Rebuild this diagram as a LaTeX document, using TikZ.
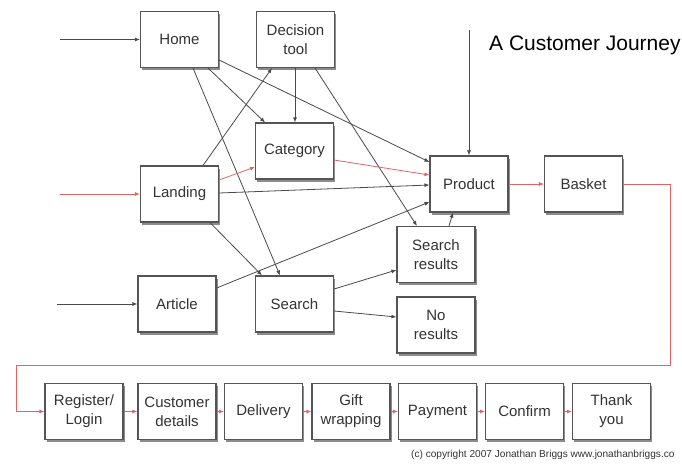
\documentclass[tikz,border=0pt]{standalone}
\usepackage{fontspec}
\setmainfont{Liberation Sans}
\usetikzlibrary{arrows.meta,shadows}

\definecolor{edge}{HTML}{4A4A4A}
\definecolor{boxline}{HTML}{555555}
\definecolor{flow}{HTML}{E06464}
\definecolor{ink}{HTML}{333333}

\tikzset{
  page/.style={
    draw=boxline, line width=1.1pt, fill=white, text=ink,
    minimum width=78pt, minimum height=56pt, inner sep=2pt,
    align=center, font=\fontsize{15}{19}\selectfont,
    drop shadow={shadow xshift=1.5pt, shadow yshift=-2.5pt, opacity=0.45, fill=black}
  },
  link/.style={draw=edge, line width=0.8pt, -{Latex[length=5pt,width=4pt]}},
  redlink/.style={draw=flow, line width=0.8pt, -{Latex[length=5pt,width=4pt]}}
}

\begin{document}
\begin{tikzpicture}[x=1pt,y=-1pt]
  \clip (0,0) rectangle (682,464);
  \fill[white] (0,0) rectangle (682,464);

  % site pages
  \node[page] (home) at (179.5,39.5) {Home};
  \node[page] (dec)  at (295.5,39.5) {Decision\\tool};
  \node[page] (cat)  at (294.5,151)  {Category};
  \node[page] (land) at (179.5,194)  {Landing};
  \node[page] (prod) at (469,184)    {Product};
  \node[page] (bask) at (583.5,184)  {Basket};
  \node[page] (art)  at (177,304)    {Article};
  \node[page] (srch) at (294.5,304)  {Search};
  \node[page] (sres) at (436,254.5)  {Search\\results};
  \node[page] (nores) at (436,325)   {No\\results};

  % checkout steps
  \node[page] (reg)  at (84,411.5)    {Register/\\Login};
  \node[page] (cust) at (177,411.5)   {Customer\\details};
  \node[page] (deliv) at (263.5,411.5) {Delivery};
  \node[page] (gift) at (351,411.5)   {Gift\\wrapping};
  \node[page] (pay)  at (437.5,411.5) {Payment};
  \node[page] (conf) at (524.5,411.5) {Confirm};
  \node[page] (thx)  at (611.5,411.5) {Thank\\you};

  % title and credit
  \node[anchor=west, text=black, font=\fontsize{21}{25}\selectfont, inner sep=0pt]
    (title) at (489,45) {A Customer Journey};
  \node[anchor=west, text=ink, font=\fontsize{10.1}{12}\selectfont, inner sep=0pt]
    (credit) at (411,455) {(c) copyright 2007 Jonathan Briggs www.jonathanbriggs.co};

  % entry points
  \coordinate (inHome) at (60,39.5);
  \coordinate (inLand) at (60,194);
  \coordinate (inArt)  at (57,304);
  \coordinate (inProd) at (469,30);
  \draw[link] (inHome) -- (home.west);
  \draw[redlink] (inLand) -- (land.west);
  \draw[link] (inArt) -- (art.west);
  \draw[link] (inProd) -- (prod.north);

  % navigation between pages
  \draw[link] ([xshift=28.5pt]home.south) -- ([xshift=-29.5pt]cat.north);
  \draw[link] ([yshift=-20.5pt]home.east) -- ([yshift=22pt]prod.west);
  \draw[link] ([xshift=13.5pt]home.south) -- ([xshift=-14.5pt]srch.north);
  \draw[link] ([xshift=23.5pt]land.north) -- ([xshift=-23.5pt]dec.south);
  \draw[redlink] ([yshift=14pt]land.east) -- ([yshift=-16pt]cat.west);
  \draw[link] ([yshift=1pt]land.east) -- ([yshift=-1pt]prod.west);
  \draw[link] ([xshift=30.5pt]land.south) -- ([xshift=-32.5pt]srch.north);
  \draw[link] ([xshift=-0.5pt]dec.south) -- ([xshift=0.5pt]cat.north);
  \draw[link] ([xshift=19.5pt]dec.south) -- ([xshift=-19pt]sres.north);
  \draw[redlink] ([yshift=-9pt]cat.east) -- ([yshift=9pt]prod.west);
  \draw[link] ([yshift=16pt]art.east) -- ([yshift=-18pt]prod.west);
  \draw[link] ([yshift=15pt]srch.east) -- ([yshift=-15.5pt]sres.west);
  \draw[link] ([yshift=-7pt]srch.east) -- ([yshift=8pt]nores.west);
  \draw[link] ([xshift=13pt]sres.north) -- ([xshift=-16pt]prod.south);
  \draw[redlink] (prod.east) -- (bask.west);

  % basket to checkout loop
  \coordinate (loopA) at (670,184);
  \coordinate (loopB) at (670,365);
  \coordinate (loopC) at (16,365);
  \coordinate (loopD) at (16,411.5);
  \draw[redlink] (bask.east) -- (loopA) -- (loopB) -- (loopC) -- (loopD) -- (reg.west);

  % checkout sequence
  \draw[redlink] (reg.east) -- (cust.west);
  \draw[redlink] (cust.east) -- (deliv.west);
  \draw[redlink] (deliv.east) -- (gift.west);
  \draw[redlink] (gift.east) -- (pay.west);
  \draw[redlink] (pay.east) -- (conf.west);
  \draw[redlink] (conf.east) -- (thx.west);
\end{tikzpicture}
\end{document}
